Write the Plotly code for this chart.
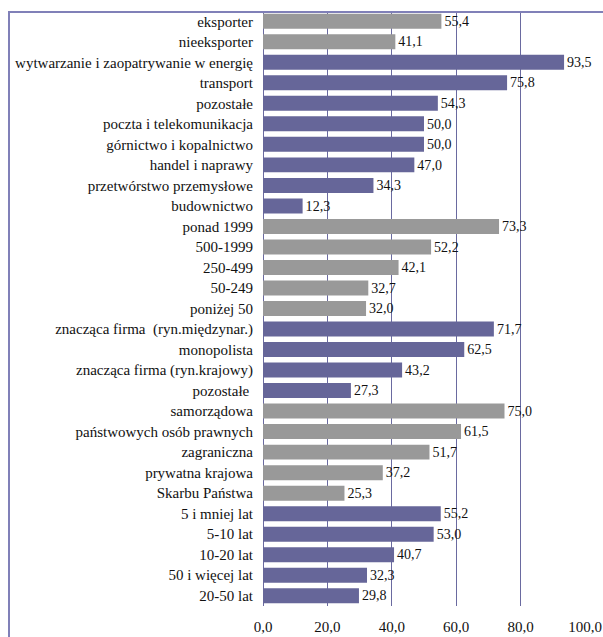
import plotly.graph_objects as go

categories = [
    "eksporter", "nieeksporter",
    "wytwarzanie i zaopatrywanie w energię", "transport", "pozostałe",
    "poczta i telekomunikacja", "górnictwo i kopalnictwo", "handel i naprawy",
    "przetwórstwo przemysłowe", "budownictwo",
    "ponad 1999", "500-1999", "250-499", "50-249", "poniżej 50",
    "znacząca firma  (ryn.międzynar.)", "monopolista",
    "znacząca firma (ryn.krajowy)", "pozostałe ",
    "samorządowa", "państwowych osób prawnych", "zagraniczna",
    "prywatna krajowa", "Skarbu Państwa",
    "5 i mniej lat", "5-10 lat", "10-20 lat", "50 i więcej lat", "20-50 lat",
]
values = [
    55.4, 41.1,
    93.5, 75.8, 54.3, 50.0, 50.0, 47.0, 34.3, 12.3,
    73.3, 52.2, 42.1, 32.7, 32.0,
    71.7, 62.5, 43.2, 27.3,
    75.0, 61.5, 51.7, 37.2, 25.3,
    55.2, 53.0, 40.7, 32.3, 29.8,
]
group_sizes = [2, 8, 5, 4, 5, 5]
group_colors = ["#999999", "#666699"]

tick_values = [0, 20, 40, 60, 80, 100]
tick_labels = ["0,0", "20,0", "40,0", "60,0", "80,0", "100,0"]

colors = []
for i, n in enumerate(group_sizes):
    colors += [group_colors[i % 2]] * n

labels = [f"{v:.1f}".replace(".", ",") for v in values]

W, H = 603, 637
ml, mr, mt, mb = 263, 18, 11, 31

fig = go.Figure(go.Bar(
    x=values, y=categories, orientation="h",
    marker=dict(color=colors, line=dict(width=0)),
    text=labels, textposition="outside", cliponaxis=False,
    textfont=dict(family="Liberation Serif", size=15, color="#111111"),
    hoverinfo="skip",
))

# outer frame (pixel positions converted to paper coordinates)
pw, ph = W - ml - mr, H - mt - mb
def px(x):
    return (x - ml) / pw
def py(y):
    return 1 - (y - mt) / ph

fig.add_shape(type="rect", xref="paper", yref="paper",
              x0=px(9), x1=px(620), y0=py(12), y1=py(660),
              line=dict(color="#8080b8", width=2), layer="above")

fig.update_layout(
    width=W, height=H,
    margin=dict(l=ml, r=mr, t=mt, b=mb, autoexpand=False),
    paper_bgcolor="white", plot_bgcolor="white",
    bargap=0.27, showlegend=False,
    font=dict(family="Liberation Serif", size=15, color="#111111"),
    xaxis=dict(
        range=[0, 100], tickvals=tick_values, ticktext=tick_labels,
        showgrid=True, gridcolor="#6a6aa0", gridwidth=1,
        zeroline=True, zerolinecolor="#6a6aa0", zerolinewidth=1,
        ticks="", ticklabelstandoff=10, fixedrange=True, automargin=False,
    ),
    yaxis=dict(
        autorange="reversed", showgrid=False, ticks="",
        ticklabelstandoff=9, fixedrange=True, automargin=False,
    ),
)

fig.write_html("out.html")
